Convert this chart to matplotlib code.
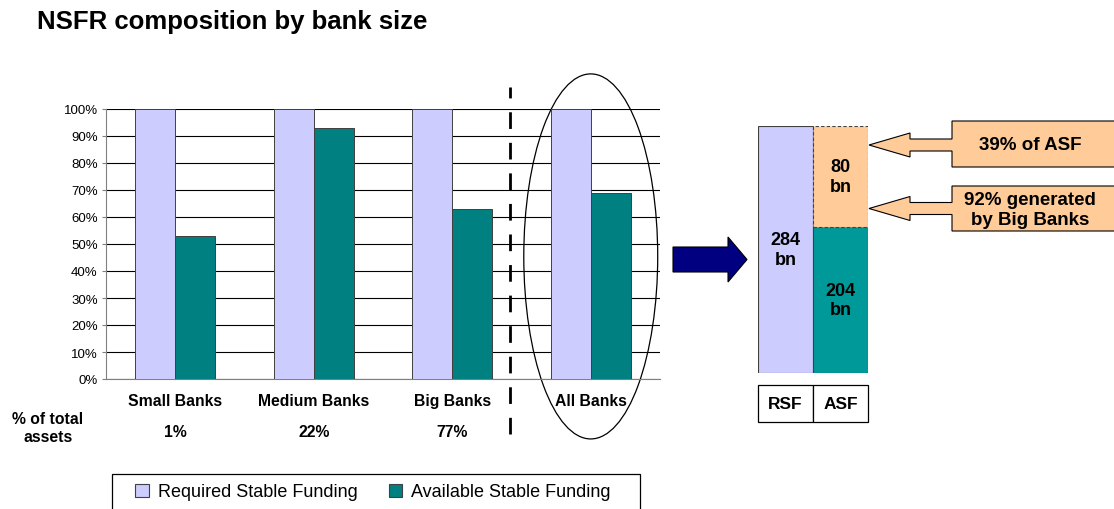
import matplotlib.pyplot as plt
from matplotlib.patches import Ellipse, FancyArrow, Polygon, Rectangle, Patch

plt.rcParams['font.family'] = ['Liberation Sans', 'DejaVu Sans']

# data
categories = ['Small Banks', 'Medium Banks', 'Big Banks', 'All Banks']
asset_share = ['1%', '22%', '77%', '']
rsf_pct = [100, 100, 100, 100]
asf_pct = [53, 93, 63, 69]

# right hand schematic bar (drawn shares) and its labels
stack_names = ['RSF', 'ASF']
rsf_drawn = [100]
asf_drawn = [59]
gap_drawn = [41]
rsf_label = '284\nbn'
asf_label = '204\nbn'
gap_label = '80\nbn'
callouts = ['39% of ASF', '92% generated\nby Big Banks']

lavender = '#CCCCFF'
teal = '#008080'
teal2 = '#009999'
peach = '#FFCC99'
navy = '#000080'

W, H = 1114, 510
fig = plt.figure(figsize=(W / 100, H / 100), dpi=100)

def frac(x0, y0, x1, y1):
    # pixel box (top-left origin) -> figure fraction rect
    return [x0 / W, 1 - y1 / H, (x1 - x0) / W, (y1 - y0) / H]

# main grouped bars
ax = fig.add_axes(frac(106, 110, 660, 380))
x = list(range(len(categories)))
bw = 0.29
ax.bar([i - bw / 2 for i in x], rsf_pct, bw, color=lavender, edgecolor='#404040', linewidth=0.7,
       label='Required Stable Funding', zorder=3)
ax.bar([i + bw / 2 for i in x], asf_pct, bw, color=teal, edgecolor='#404040', linewidth=0.7,
       label='Available Stable Funding', zorder=3)
ax.set_xlim(-0.5, 3.5)
ax.set_ylim(0, 100)
ax.set_yticks(range(0, 101, 10))
ax.set_yticklabels([f'{v}%' for v in range(0, 101, 10)], fontsize=9.5)
ax.yaxis.grid(True, color='black', linewidth=0.8, zorder=0)
ax.set_xticks(x)
ax.set_xticklabels(categories, fontsize=11.3, fontweight='bold')
ax.tick_params(axis='x', length=0, pad=10)
ax.tick_params(axis='y', length=3, color='#808080', pad=3)
for s in ['top', 'right']:
    ax.spines[s].set_visible(False)
ax.spines['left'].set_color('#808080')
ax.spines['bottom'].set_color('#808080')

for i, s in enumerate(asset_share):
    if s:
        ax.text(i, -19.3, s, ha='center', va='center', fontsize=11.3, fontweight='bold', clip_on=False)

ax.axvline(2.42, ymin=-0.204, ymax=1.08, color='black', linewidth=2, dashes=(6, 5), clip_on=False)
ax.add_patch(Ellipse((3, 45.4), 0.967, 135.2, fill=False, edgecolor='black', linewidth=0.9, clip_on=False))

fig.text(48 / W, 1 - 429 / H, '% of total\nassets', ha='center', va='center', fontsize=11.3,
         fontweight='bold', linespacing=1.25)
fig.text(37 / W, 1 - 22 / H, 'NSFR composition by bank size', ha='left', va='center', fontsize=18.5,
         fontweight='bold')

# legend
handles = [Patch(facecolor=lavender, edgecolor='#404040', linewidth=0.8),
           Patch(facecolor=teal, edgecolor='#404040', linewidth=0.8)]
leg = fig.legend(handles, ['Required Stable Funding', 'Available Stable Funding'], ncol=2,
                 loc='center left', bbox_to_anchor=(135 / W, 1 - 493 / H), frameon=False,
                 fontsize=13, handlelength=0.75, handleheight=0.75, handletextpad=0.5,
                 columnspacing=1.75, borderpad=0, borderaxespad=0)

# schematic stacked bar
bx = fig.add_axes(frac(758, 127, 868, 374))
bx.bar([0], rsf_drawn, 1, color=lavender, edgecolor='#404040', linewidth=0.8)
bx.bar([1], asf_drawn, 1, color=teal2, edgecolor='#404040', linewidth=0.8)
bx.bar([1], gap_drawn, 1, bottom=asf_drawn, color=peach, edgecolor='#404040', linewidth=0.8,
       linestyle=(0, (3, 2)))
bx.set_xlim(-0.5, 1.5)
bx.set_ylim(0, 100)
bx.axis('off')
bx.text(0, rsf_drawn[0] / 2, rsf_label, ha='center', va='center', fontsize=13, fontweight='bold')
bx.text(1, asf_drawn[0] / 2, asf_label, ha='center', va='center', fontsize=13, fontweight='bold')
bx.text(1, asf_drawn[0] + gap_drawn[0] / 2, gap_label, ha='center', va='center', fontsize=13,
        fontweight='bold')

# overlay in pixel coordinates for arrows and boxes
ov = fig.add_axes([0, 0, 1, 1], zorder=-1)
ov.set_xlim(0, W)
ov.set_ylim(H, 0)
ov.axis('off')

ov.add_patch(Rectangle((112, 475), 528, 45, facecolor='white', edgecolor='black', linewidth=0.9))

ov.add_patch(FancyArrow(673, 260.5, 74, 0, width=25, head_width=45, head_length=19,
                        length_includes_head=True, facecolor=navy, edgecolor='black', linewidth=0.8))

for i, name in enumerate(stack_names):
    ov.add_patch(Rectangle((758 + i * 55, 386), 55, 37, facecolor='white', edgecolor='black', linewidth=0.9))
    ov.text(758 + i * 55 + 27.5, 404.5, name, ha='center', va='center', fontsize=12.5, fontweight='bold')

def callout(tip_y, box_top, box_bot, text):
    pts = [(869, tip_y), (910, tip_y - 12), (910, tip_y - 6), (952, tip_y - 6), (952, box_top),
           (1125, box_top), (1125, box_bot), (952, box_bot), (952, tip_y + 6), (910, tip_y + 6),
           (910, tip_y + 12)]
    ov.add_patch(Polygon(pts, closed=True, facecolor=peach, edgecolor='black', linewidth=0.8))
    ov.text(1030, (box_top + box_bot) / 2 + 1, text, ha='center', va='center', fontsize=13.5,
            fontweight='bold', linespacing=1.3)

callout(146, 122, 168, callouts[0])
callout(209.5, 187, 232, callouts[1])

fig.savefig('out.png', dpi=100, facecolor='white')
